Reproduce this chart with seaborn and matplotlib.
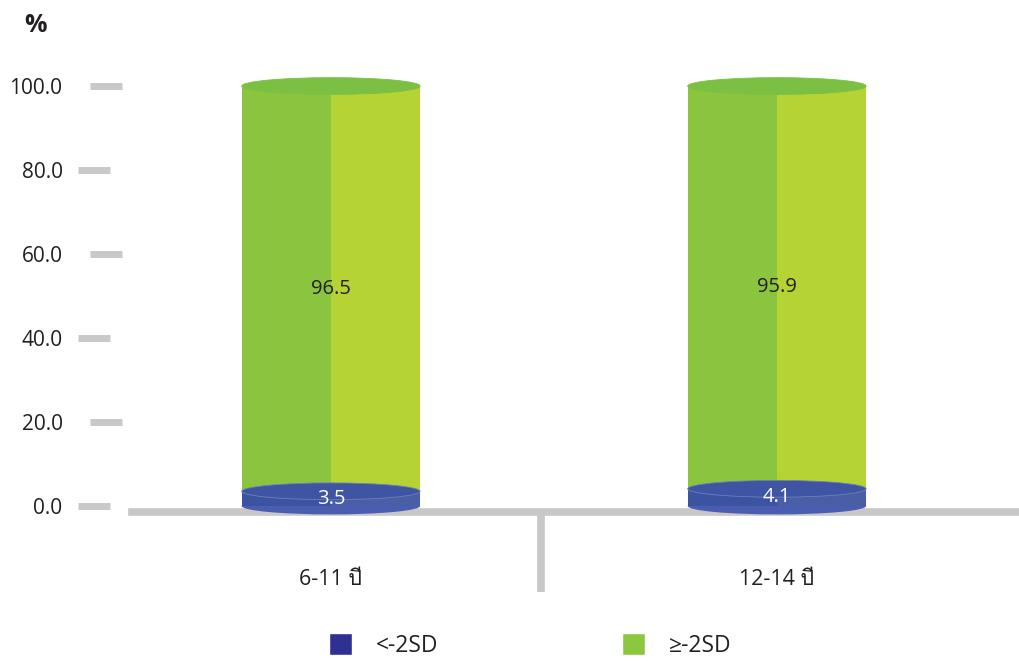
import pandas as pd
import matplotlib
matplotlib.use("Agg")
import matplotlib.pyplot as plt
import seaborn as sns
from matplotlib import font_manager
from matplotlib.ft2font import FT2Font
from matplotlib.patches import Rectangle, Ellipse, Patch
import matplotlib.transforms as mtransforms

# data
age_groups = ["6-11 ปี", "12-14 ปี"]
below_2sd = [3.5, 4.1]      # <-2SD
above_2sd = [96.5, 95.9]    # ≥-2SD
series_names = ["<-2SD", "≥-2SD"]
y_ticks = [0, 20, 40, 60, 80, 100]

# find a font that has Thai glyphs
thai_font = None
for f in font_manager.fontManager.ttflist:
    try:
        if 0x0E1B in FT2Font(f.fname).get_charmap():
            thai_font = f.name
            break
    except Exception:
        pass

sns.set_style("white")
families = ["Open Sans"]
if thai_font:
    families.append(thai_font)
families.append("DejaVu Sans")
plt.rcParams["font.family"] = families

df = pd.DataFrame({"age": age_groups, "low": below_2sd, "high": above_2sd})
df["total"] = df["low"] + df["high"]

GREEN_L, GREEN_R, GREEN_TOP = "#8bc540", "#b6d335", "#7cc043"
BLUE_L, BLUE_R, BLUE_TOP, BLUE_BOT = "#3c53a2", "#4a5ea6", "#3f55a3", "#4b5db0"
GREY = "#c8c8c8"
TXT = "#231f20"

fig = plt.figure(figsize=(10.2, 6.61), dpi=100)
ax = fig.add_axes([0.1294, 0.2254, 0.8706, 0.6838])

W = 0.4
sns.barplot(data=df, x="age", y="total", color=GREEN_L, width=W, saturation=1,
            ax=ax, zorder=2)
n_green = len(ax.patches)
sns.barplot(data=df, x="age", y="low", color=BLUE_L, width=W, saturation=1,
            ax=ax, zorder=4)

EH = 4.0  # ellipse height in data units
for k, p in enumerate(ax.patches[:]):
    green = k < n_green
    x0, w, h = p.get_x(), p.get_width(), p.get_height()
    cx = x0 + w / 2
    p.set_linewidth(0)
    p.set_clip_on(False)
    z = 2 if green else 4
    right = GREEN_R if green else BLUE_R
    top = GREEN_TOP if green else BLUE_TOP
    ax.add_patch(Rectangle((cx, 0), w / 2, h, facecolor=right, lw=0,
                           zorder=z, clip_on=False))
    if not green:
        ax.add_patch(Ellipse((cx, 0), w, EH, facecolor=BLUE_BOT, lw=0,
                             zorder=z - 0.5, clip_on=False))
    ax.add_patch(Ellipse((cx, h), w, EH, facecolor=top,
                         edgecolor="#6d7fb8" if not green else top, lw=0.6,
                         zorder=z + 0.5, clip_on=False))

# value labels
for i in range(len(age_groups)):
    ax.text(i, below_2sd[i] / 2, f"{below_2sd[i]:.1f}", ha="center", va="center",
            color="white", fontsize=14.5, zorder=10)
    ax.text(i, below_2sd[i] + above_2sd[i] / 2, f"{above_2sd[i]:.1f}", ha="center",
            va="center", color=TXT, fontsize=14.5, zorder=10)

ax.set_xlim(-0.446, 1.545)
ax.set_ylim(-1.43, 106.2)
ax.set_xlabel("")
ax.set_ylabel("")
ax.set_yticks(y_ticks)
ax.set_yticklabels([f"{v:.1f}" for v in y_ticks], fontsize=15, color=TXT)
ax.tick_params(axis="y", length=0, pad=50)
ax.tick_params(axis="x", length=0, pad=41, labelsize=15.5, labelcolor=TXT)

for s in ["left", "right", "top"]:
    ax.spines[s].set_visible(False)
ax.spines["bottom"].set_color(GREY)
ax.spines["bottom"].set_linewidth(5.5)

# tick bars (alternating offsets as in the original)
ytr = mtransforms.blended_transform_factory(ax.transAxes, ax.transData)
for j, v in enumerate(y_ticks):
    xs = [-0.0473, -0.0113] if j % 2 == 1 else [-0.0608, -0.0248]
    ax.plot(xs, [v, v], color=GREY, lw=5, transform=ytr, clip_on=False,
            solid_capstyle="butt")

# divider between the groups
xtr = mtransforms.blended_transform_factory(ax.transData, ax.transAxes)
ax.plot([0.47, 0.47], [0, -0.177], color=GREY, lw=5.5, transform=xtr,
        clip_on=False, solid_capstyle="butt")

fig.text(36 / 1020, 1 - 25 / 661, "%", fontsize=18, fontweight="bold",
         ha="center", va="center", color=TXT)

handles = [Patch(facecolor="#2e3192"), Patch(facecolor="#8dc63f")]
fig.legend(handles, series_names, loc="center", bbox_to_anchor=(0.52, 0.024),
           ncol=2, frameon=False, fontsize=16.5, handlelength=1.0,
           handleheight=1.1, handletextpad=1.05, columnspacing=8.0,
           labelcolor=TXT)

fig.savefig("out.png", dpi=100)
